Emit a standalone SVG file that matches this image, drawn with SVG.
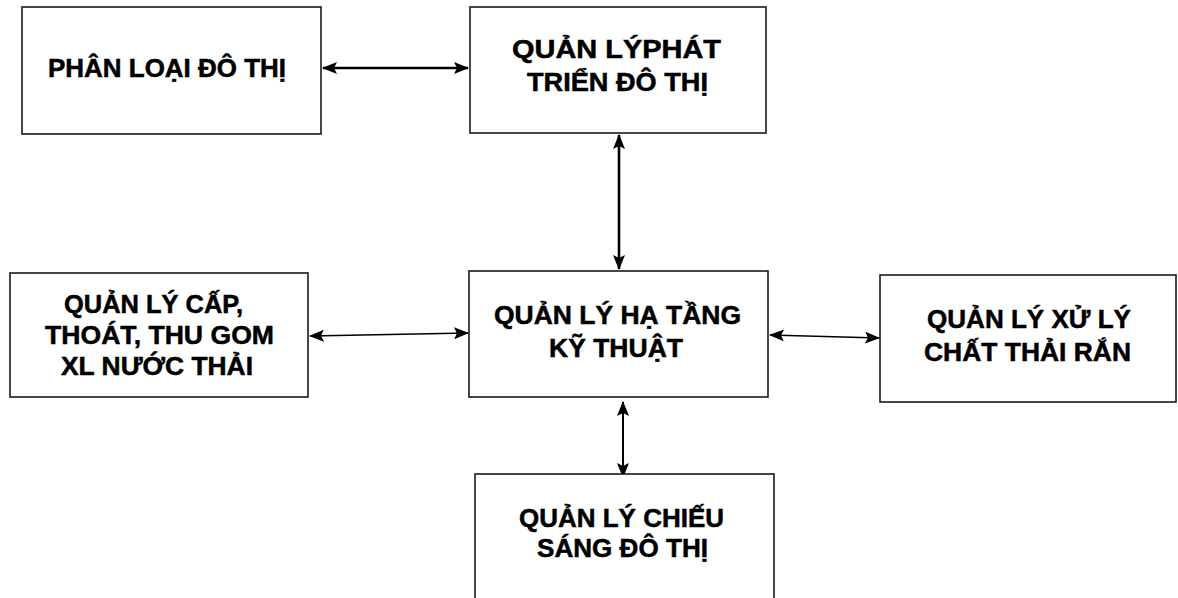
<svg xmlns="http://www.w3.org/2000/svg" width="1178" height="598" viewBox="0 0 1178 598">
  <style>
    .box { fill: #ffffff; stroke: #1a1a1a; stroke-width: 1.6; }
    .lbl { font-family: "Liberation Sans", Arial, sans-serif; font-weight: bold; font-size: 25px; fill: #000000; stroke: #000000; stroke-width: 0.5; text-anchor: middle; }
    .conn { fill: none; stroke: #000000; }
  </style>
  <defs>
    <marker id="ah" viewBox="0 0 15 12" refX="14" refY="6" markerWidth="15" markerHeight="12" markerUnits="userSpaceOnUse" orient="auto-start-reverse">
      <path d="M0,0 L15,6 L0,12 L3,6 z" fill="#000000"/>
    </marker>
  </defs>
  <rect width="1178" height="598" fill="#ffffff"/>

  <g id="connectors">
    <line class="conn" x1="323" y1="68" x2="468" y2="68" stroke-width="2.6" marker-start="url(#ah)" marker-end="url(#ah)"/>
    <line class="conn" x1="619" y1="135" x2="619" y2="269" stroke-width="2.6" marker-start="url(#ah)" marker-end="url(#ah)"/>
    <line class="conn" x1="310" y1="336" x2="468" y2="333" stroke-width="1.6" marker-start="url(#ah)" marker-end="url(#ah)"/>
    <line class="conn" x1="770" y1="335" x2="879" y2="338" stroke-width="1.6" marker-start="url(#ah)" marker-end="url(#ah)"/>
    <line class="conn" x1="623" y1="402" x2="623" y2="477" stroke-width="2" marker-start="url(#ah)" marker-end="url(#ah)"/>
  </g>

  <g id="node-phan-loai">
    <rect class="box" x="22" y="7" width="299" height="127"/>
    <text class="lbl" x="167" y="77" textLength="238" lengthAdjust="spacingAndGlyphs">PHÂN LOẠI ĐÔ THỊ</text>
  </g>

  <g id="node-phat-trien">
    <rect class="box" x="470" y="7" width="296" height="126"/>
    <text class="lbl" x="616.5" y="58" textLength="209" lengthAdjust="spacingAndGlyphs">QUẢN LÝPHÁT</text>
    <text class="lbl" x="617.5" y="91" textLength="181" lengthAdjust="spacingAndGlyphs">TRIỂN ĐÔ THỊ</text>
  </g>

  <g id="node-cap-thoat">
    <rect class="box" x="10" y="273" width="298" height="124"/>
    <text class="lbl" x="153.5" y="313" textLength="179" lengthAdjust="spacingAndGlyphs">QUẢN LÝ CẤP,</text>
    <text class="lbl" x="159.5" y="344" textLength="229" lengthAdjust="spacingAndGlyphs">THOÁT, THU GOM</text>
    <text class="lbl" x="157" y="375" textLength="192" lengthAdjust="spacingAndGlyphs">XL NƯỚC THẢI</text>
  </g>

  <g id="node-ha-tang">
    <rect class="box" x="469" y="271" width="299" height="126"/>
    <text class="lbl" x="617.5" y="324" textLength="247" lengthAdjust="spacingAndGlyphs">QUẢN LÝ HẠ TẦNG</text>
    <text class="lbl" x="616" y="357" textLength="134" lengthAdjust="spacingAndGlyphs">KỸ THUẬT</text>
  </g>

  <g id="node-chat-thai">
    <rect class="box" x="880" y="275" width="296" height="127"/>
    <text class="lbl" x="1029" y="328" textLength="204" lengthAdjust="spacingAndGlyphs">QUẢN LÝ XỬ LÝ</text>
    <text class="lbl" x="1027.5" y="361" textLength="207" lengthAdjust="spacingAndGlyphs">CHẤT THẢI RẮN</text>
  </g>

  <g id="node-chieu-sang">
    <rect class="box" x="475" y="474" width="299" height="140"/>
    <text class="lbl" x="621.5" y="527" textLength="205" lengthAdjust="spacingAndGlyphs">QUẢN LÝ CHIẾU</text>
    <text class="lbl" x="622.5" y="557" textLength="171" lengthAdjust="spacingAndGlyphs">SÁNG ĐÔ THỊ</text>
  </g>
</svg>
